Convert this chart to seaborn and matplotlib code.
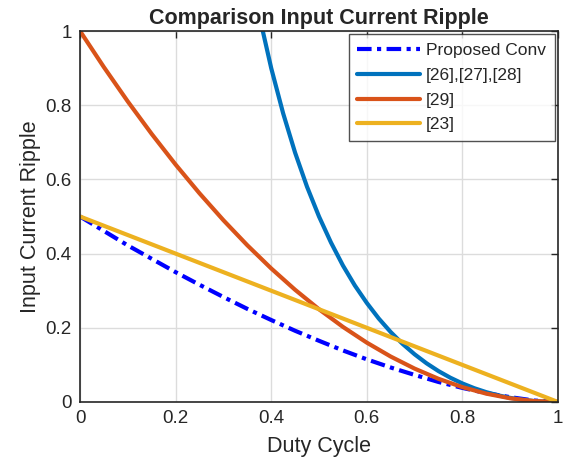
import matplotlib
matplotlib.use("Agg")
import matplotlib.pyplot as plt
import seaborn as sns
import pandas as pd

duty = [0.0, 0.05, 0.1, 0.15, 0.2, 0.25, 0.3, 0.35, 0.4, 0.45, 0.5,
        0.55, 0.6, 0.65, 0.7, 0.75, 0.8, 0.85, 0.9, 0.95, 1.0]
proposed = [0.5, 0.461, 0.422, 0.386, 0.350, 0.316, 0.283, 0.251, 0.221, 0.192, 0.165,
            0.139, 0.115, 0.093, 0.073, 0.054, 0.038, 0.024, 0.013, 0.004, 0.0]
ref29 = [1.0, 0.9025, 0.81, 0.7225, 0.64, 0.5625, 0.49, 0.4225, 0.36, 0.3025, 0.25,
         0.2025, 0.16, 0.1225, 0.09, 0.0625, 0.04, 0.0225, 0.01, 0.0025, 0.0]
ref23 = [0.5, 0.475, 0.45, 0.425, 0.4, 0.375, 0.35, 0.325, 0.3, 0.275, 0.25,
         0.225, 0.2, 0.175, 0.15, 0.125, 0.1, 0.075, 0.05, 0.025, 0.0]
duty_b = [0.36, 0.375, 0.4, 0.425, 0.45, 0.475, 0.5, 0.525, 0.55, 0.575, 0.6,
          0.625, 0.65, 0.675, 0.7, 0.725, 0.75, 0.775, 0.8, 0.825, 0.85,
          0.875, 0.9, 0.925, 0.95, 0.975, 1.0]
ref26 = [1.138, 1.042, 0.9, 0.778, 0.672, 0.580, 0.5, 0.430, 0.368, 0.314, 0.267,
         0.225, 0.1885, 0.1565, 0.1286, 0.1043, 0.0833, 0.0653, 0.05, 0.0371, 0.0265,
         0.0179, 0.0111, 0.0061, 0.0026, 0.0006, 0.0]

labels = ["Proposed Conv", "[26],[27],[28]", "[29]", "[23]"]
colors = ["#0000FF", "#0072BD", "#D95319", "#EDB120"]

df = pd.concat([
    pd.DataFrame({"D": duty, "R": proposed, "s": labels[0]}),
    pd.DataFrame({"D": duty_b, "R": ref26, "s": labels[1]}),
    pd.DataFrame({"D": duty, "R": ref29, "s": labels[2]}),
    pd.DataFrame({"D": duty, "R": ref23, "s": labels[3]}),
])

sns.set_style("white")
plt.rcParams["font.family"] = ["Liberation Sans", "DejaVu Sans"]

fig = plt.figure(figsize=(5.65, 4.68), dpi=100)
ax = fig.add_axes([80/565, 66/468, 478/565, 371/468])

sns.lineplot(data=df, x="D", y="R", hue="s", style="s", hue_order=labels,
             palette=dict(zip(labels, colors)),
             dashes={labels[0]: (3.5, 1.3, 1.0, 1.3), labels[1]: "", labels[2]: "", labels[3]: ""},
             linewidth=3, sort=False, estimator=None, ax=ax, legend=True)

ax.set_xlim(0, 1)
ax.set_ylim(0, 1)
ax.set_xticks([0, 0.2, 0.4, 0.6, 0.8, 1])
ax.set_xticklabels(["0", "0.2", "0.4", "0.6", "0.8", "1"])
ax.set_yticks([0, 0.2, 0.4, 0.6, 0.8, 1])
ax.set_yticklabels(["0", "0.2", "0.4", "0.6", "0.8", "1"])
ax.grid(True, color="#DCDCDC", linewidth=1)
ax.tick_params(direction="in", length=5, width=1, colors="#262626", labelsize=13.5,
               top=True, right=True, pad=6)
for sp in ax.spines.values():
    sp.set_color("#262626")
    sp.set_linewidth(1.2)
ax.set_xlabel("Duty Cycle", fontsize=15.5, color="#262626", labelpad=6)
ax.set_ylabel("Input Current Ripple", fontsize=15.5, color="#262626", labelpad=3)
ax.set_title("Comparison Input Current Ripple", fontsize=15.5, fontweight="bold", pad=5)

leg = ax.legend(loc="upper right", fontsize=12.5, frameon=True, fancybox=False,
                borderaxespad=0.2, handlelength=3.6, labelspacing=0.55,
                borderpad=0.5, handletextpad=0.35)
leg.get_frame().set_edgecolor("#262626")
leg.get_frame().set_linewidth(1)

fig.savefig("out.png", dpi=100)
